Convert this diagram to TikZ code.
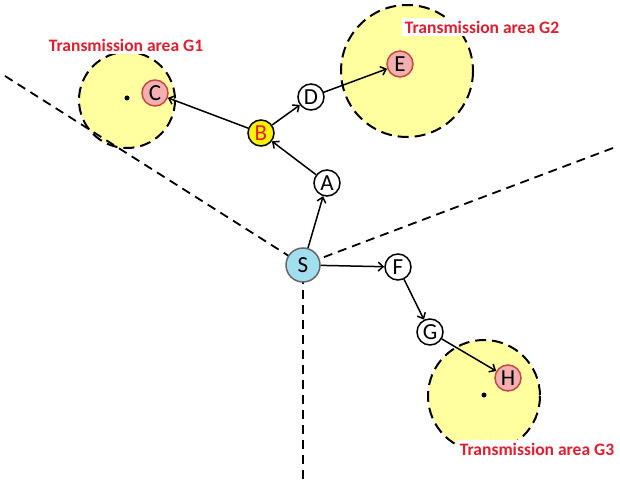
\documentclass[tikz,border=0pt]{standalone}
\usepackage{fontspec}
\setmainfont{Carlito}
\usepackage{tikz}
\usetikzlibrary{arrows.meta}

\definecolor{areayellow}{RGB}{255,255,160}
\definecolor{labelred}{RGB}{225,30,45}
\definecolor{srcblue}{RGB}{160,222,240}
\definecolor{dstpink}{RGB}{244,176,176}
\definecolor{dstedge}{RGB}{200,70,70}

\begin{document}
\begin{tikzpicture}[x=1pt, y=-1pt, line width=1.5pt,
    >={Straight Barb[length=5pt, width=9pt]},
    main/.style = {draw, circle, fill=white, inner sep=0pt, minimum size=26pt, font=\fontsize{23}{23}\selectfont},
    src/.style = {main, fill=srcblue, draw=black!60, minimum size=34pt},
    relay/.style = {main, fill=yellow, text=labelred},
    dest/.style = {main, fill=dstpink, draw=dstedge},
    area/.style = {draw, fill=areayellow, line width=2pt, dash pattern=on 11pt off 6pt},
    border/.style = {line width=1.8pt, dash pattern=on 9pt off 6pt},
    areatext/.style = {fill=white, text=labelred, font=\bfseries\fontsize{17.5}{17.5}\selectfont, inner sep=3pt}]
    \useasboundingbox (0,0) rectangle (620,481);

    % transmission areas
    \draw[area] (127,100) circle (48);
    \draw[area] (407,71) circle (66);
    \draw[area] (484,396) circle (56);

    % region borders
    \coordinate (o) at (303,265);
    \coordinate (nw) at (5,76);
    \coordinate (ne) at (613,148);
    \coordinate (so) at (303,479);
    \draw[border] (nw) -- (o);
    \draw[border] (ne) -- (o);
    \draw[border] (so) -- (o);

    % area centres
    \fill (127,98) circle (2.5);
    \fill (484,395) circle (2.5);

    \node[areatext] (g1) at (126,45) {Transmission area G1};
    \node[areatext] (g2) at (482,27) {Transmission area G2};
    \node[areatext] (g3) at (537,449) {Transmission area G3};

    \node[src] (S) at (303,265) {S};
    \node[main] (A) at (327,183) {A};
    \node[relay] (B) at (261,133) {B};
    \node[dest] (C) at (155,93) {C};
    \node[main] (D) at (311,97) {D};
    \node[dest] (E) at (400,64) {E};
    \node[main] (F) at (398,267) {F};
    \node[main] (G) at (430,332) {G};
    \node[dest] (H) at (508,378) {H};

    \path[->] (S) edge node {} (A);
    \path[->] (A) edge node {} (B);
    \path[->] (B) edge node {} (C);
    \path[->] (B) edge node {} (D);
    \path[->] (D) edge node {} (E);

    \path[->] (S) edge node {} (F);
    \path[->] (F) edge node {} (G);
    \path[->] (G) edge node {} (H);
\end{tikzpicture}
\end{document}
